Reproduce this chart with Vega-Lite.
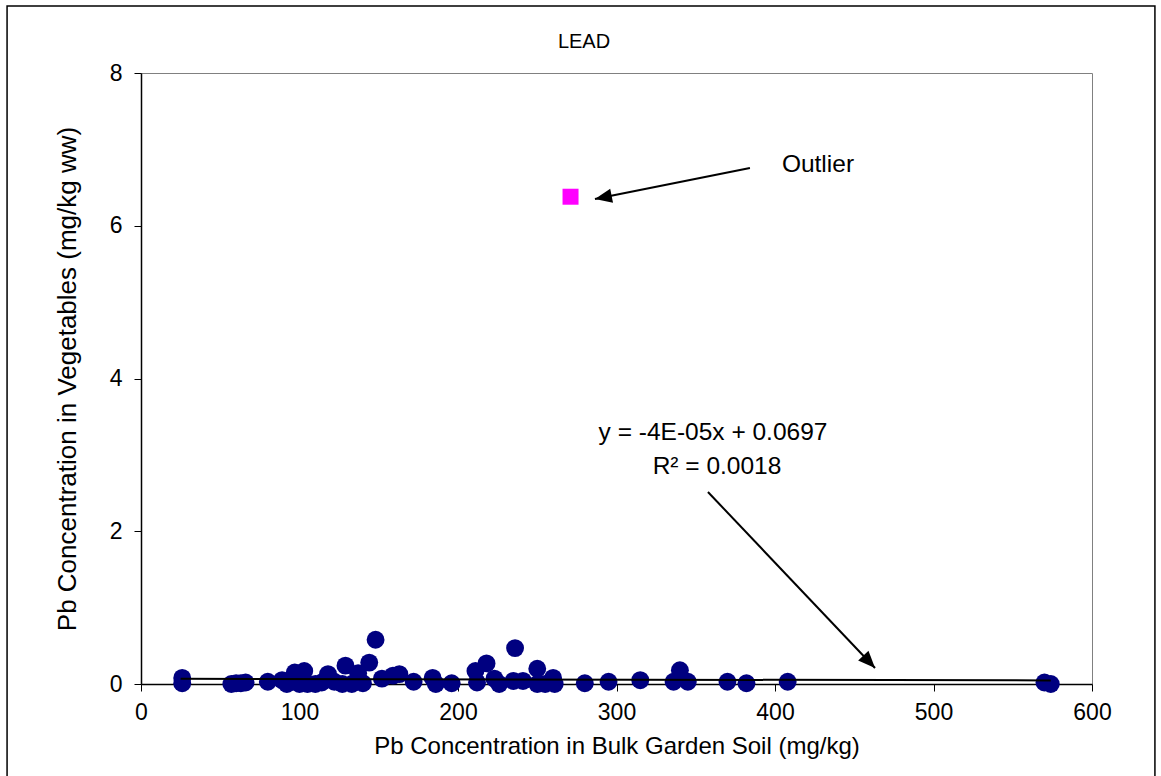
{
  "$schema": "https://vega.github.io/schema/vega-lite/v6.json",
  "width": 951,
  "height": 611,
  "autosize": {"type": "none"},
  "padding": {"left": 141, "top": 73, "right": 69, "bottom": 92},
  "background": "white",
  "config": {
    "font": "Liberation Sans",
    "view": {"stroke": "#808080", "strokeWidth": 1}
  },
  "datasets": {
    "soil": [
      {"soil": 26, "veg": 0.08}, {"soil": 26, "veg": 0.01}, {"soil": 57, "veg": 0.0},
      {"soil": 60, "veg": 0.01}, {"soil": 63, "veg": 0.01}, {"soil": 66, "veg": 0.02},
      {"soil": 80, "veg": 0.03}, {"soil": 89, "veg": 0.05}, {"soil": 92, "veg": 0.0},
      {"soil": 97, "veg": 0.15}, {"soil": 100, "veg": 0.0}, {"soil": 103, "veg": 0.17},
      {"soil": 105, "veg": 0.0}, {"soil": 110, "veg": 0.0}, {"soil": 114, "veg": 0.02},
      {"soil": 118, "veg": 0.13}, {"soil": 122, "veg": 0.03}, {"soil": 127, "veg": 0.0},
      {"soil": 129, "veg": 0.24}, {"soil": 133, "veg": 0.0}, {"soil": 137, "veg": 0.14},
      {"soil": 140, "veg": 0.01}, {"soil": 144, "veg": 0.28}, {"soil": 148, "veg": 0.58},
      {"soil": 152, "veg": 0.07}, {"soil": 159, "veg": 0.11}, {"soil": 163, "veg": 0.13},
      {"soil": 172, "veg": 0.03}, {"soil": 184, "veg": 0.08}, {"soil": 186, "veg": 0.0},
      {"soil": 196, "veg": 0.01}, {"soil": 211, "veg": 0.17}, {"soil": 212, "veg": 0.02},
      {"soil": 218, "veg": 0.27}, {"soil": 223, "veg": 0.07}, {"soil": 226, "veg": 0.0},
      {"soil": 235, "veg": 0.04}, {"soil": 236, "veg": 0.47}, {"soil": 241, "veg": 0.04},
      {"soil": 250, "veg": 0.2}, {"soil": 250, "veg": 0.0}, {"soil": 255, "veg": 0.0},
      {"soil": 260, "veg": 0.08}, {"soil": 261, "veg": 0.0}, {"soil": 280, "veg": 0.01},
      {"soil": 295, "veg": 0.03}, {"soil": 315, "veg": 0.05}, {"soil": 336, "veg": 0.03},
      {"soil": 340, "veg": 0.18}, {"soil": 345, "veg": 0.03}, {"soil": 370, "veg": 0.03},
      {"soil": 382, "veg": 0.01}, {"soil": 408, "veg": 0.03}, {"soil": 570, "veg": 0.02},
      {"soil": 574, "veg": 0.0}
    ],
    "outlier": [{"soil": 271, "veg": 6.38}],
    "trend": [{"soil": 25, "veg": 0.0687}, {"soil": 574, "veg": 0.04674}],
    "frame": [{"x1": -84.5, "x2": 639.7, "y1": 8.877, "y2": -1.3}],
    "arrow1": [{"sx": 384.2, "sy": 6.756, "ex": 286.4, "ey": 6.35}],
    "arrow2": [{"sx": 357.7, "sy": 2.514, "ex": 463.1, "ey": 0.209}],
    "labels": [
      {"lx": 427.1, "ly": 6.795, "label": "Outlier"},
      {"lx": 360.9, "ly": 3.286, "label": "y = -4E-05x + 0.0697"},
      {"lx": 363.4, "ly": 2.841, "label": "R² = 0.0018"}
    ],
    "title": [{"lx": 279.5, "ly": 8.406, "label": "LEAD"}]
  },
  "layer": [
    {
      "data": {"name": "frame"},
      "mark": {"type": "rect", "fill": null, "fillOpacity": 0, "stroke": "black", "strokeWidth": 1.5, "clip": false},
      "encoding": {
        "x": {"field": "x1", "type": "quantitative", "scale": {"domain": [0, 600], "nice": false, "zero": false}, "axis": {
          "title": "Pb Concentration in Bulk Garden Soil (mg/kg)",
          "values": [0, 100, 200, 300, 400, 500, 600],
          "format": "d",
          "labelFlush": false,
          "grid": false,
          "domainColor": "black",
          "domainWidth": 1.5,
          "tickColor": "black",
          "tickSize": 7,
          "labelFontSize": 23,
          "labelColor": "black",
          "labelPadding": 10,
          "labelFont": "Liberation Sans",
          "titleFont": "Liberation Sans",
          "titleFontSize": 24,
          "titleFontWeight": "normal",
          "titleColor": "black",
          "titlePadding": 10
        }},
        "x2": {"field": "x2"},
        "y": {"field": "y1", "type": "quantitative", "scale": {"domain": [0, 8], "nice": false, "zero": false}, "axis": {
          "title": "Pb Concentration in Vegetables (mg/kg ww)",
          "values": [0, 2, 4, 6, 8],
          "format": "d",
          "labelFlush": false,
          "grid": false,
          "domainColor": "black",
          "domainWidth": 1.5,
          "tickColor": "black",
          "tickSize": 7,
          "labelFontSize": 23,
          "labelColor": "black",
          "labelPadding": 12,
          "labelFont": "Liberation Sans",
          "titleFont": "Liberation Sans",
          "titleFontSize": 26,
          "titleFontWeight": "normal",
          "titleColor": "black",
          "titlePadding": 29
        }},
        "y2": {"field": "y2"}
      }
    },
    {
      "data": {"name": "soil"},
      "mark": {"type": "point", "shape": "circle", "filled": true, "color": "#000080", "opacity": 1, "size": 320},
      "encoding": {
        "x": {"field": "soil", "type": "quantitative"},
        "y": {"field": "veg", "type": "quantitative"}
      }
    },
    {
      "data": {"name": "trend"},
      "mark": {"type": "line", "color": "black", "strokeWidth": 2},
      "encoding": {
        "x": {"field": "soil", "type": "quantitative"},
        "y": {"field": "veg", "type": "quantitative"}
      }
    },
    {
      "data": {"name": "outlier"},
      "mark": {"type": "point", "shape": "square", "filled": true, "color": "#FF00FF", "opacity": 1, "size": 256},
      "encoding": {
        "x": {"field": "soil", "type": "quantitative"},
        "y": {"field": "veg", "type": "quantitative"}
      }
    },
    {
      "data": {"name": "arrow1"},
      "mark": {"type": "rule", "color": "black", "strokeWidth": 2},
      "encoding": {
        "x": {"field": "sx", "type": "quantitative"},
        "y": {"field": "sy", "type": "quantitative"},
        "x2": {"field": "ex"},
        "y2": {"field": "ey"}
      }
    },
    {
      "data": {"name": "arrow1"},
      "mark": {"type": "point", "shape": "M0,0L-0.42,1L0.42,1Z", "filled": true, "color": "black", "opacity": 1, "size": 1156, "angle": 258.7},
      "encoding": {
        "x": {"field": "ex", "type": "quantitative"},
        "y": {"field": "ey", "type": "quantitative"}
      }
    },
    {
      "data": {"name": "arrow2"},
      "mark": {"type": "rule", "color": "black", "strokeWidth": 2},
      "encoding": {
        "x": {"field": "sx", "type": "quantitative"},
        "y": {"field": "sy", "type": "quantitative"},
        "x2": {"field": "ex"},
        "y2": {"field": "ey"}
      }
    },
    {
      "data": {"name": "arrow2"},
      "mark": {"type": "point", "shape": "M0,0L-0.42,1L0.42,1Z", "filled": true, "color": "black", "opacity": 1, "size": 1156, "angle": 136.5},
      "encoding": {
        "x": {"field": "ex", "type": "quantitative"},
        "y": {"field": "ey", "type": "quantitative"}
      }
    },
    {
      "data": {"name": "labels"},
      "mark": {"type": "text", "font": "Liberation Sans", "fontSize": 24.5, "color": "black", "align": "center", "baseline": "middle"},
      "encoding": {
        "x": {"field": "lx", "type": "quantitative"},
        "y": {"field": "ly", "type": "quantitative"},
        "text": {"field": "label"}
      }
    },
    {
      "data": {"name": "title"},
      "mark": {"type": "text", "font": "Liberation Sans", "fontSize": 20, "color": "black", "align": "center", "baseline": "middle", "clip": false},
      "encoding": {
        "x": {"field": "lx", "type": "quantitative"},
        "y": {"field": "ly", "type": "quantitative"},
        "text": {"field": "label"}
      }
    }
  ]
}
